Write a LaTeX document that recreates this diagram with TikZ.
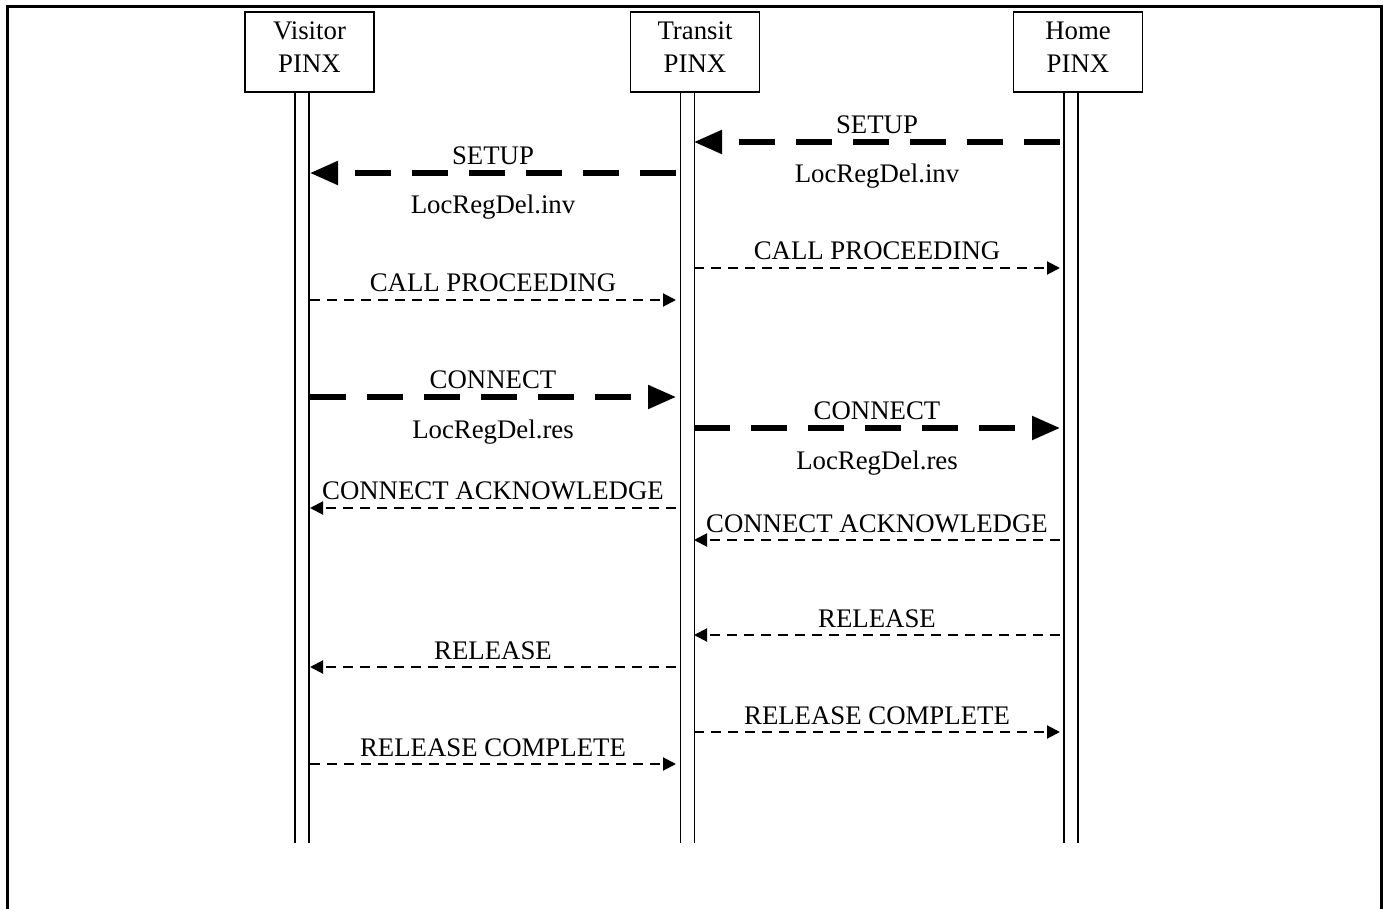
\documentclass[tikz,border=0pt]{standalone}
\usepackage{fontspec}
\setmainfont{Liberation Serif}
\usetikzlibrary{arrows.meta}

\begin{document}
\begin{tikzpicture}[
  x=0.5pt, y=-0.5pt,
  font=\fontsize{13.4}{16.5}\selectfont,
  pinx/.style={rectangle, draw, line width=0.6pt, minimum width=64.5pt, minimum height=40pt, inner sep=0pt, align=center, text depth=5.2pt},
  lifeline/.style={draw, line width=0.9pt, double, double distance=6.1pt},
  msg/.style={line width=1pt, dash pattern=on 5pt off 3.5pt, -{Triangle[length=6.5pt, width=6.5pt]}},
  bigmsg/.style={line width=2.6pt, dash pattern=on 18pt off 10.5pt, -{Triangle[length=14pt, width=11.5pt]}},
  lbl/.style={midway, anchor=base, inner sep=0pt, yshift=4pt},
  sublbl/.style={midway, anchor=base, inner sep=0pt, yshift=-20.5pt}
]
  \useasboundingbox (0,0) rectangle (1388,909);

  % Ramecek (bez spodni hrany)
  \draw[line width=1.5pt] (7,909) -- (7,7) -- (1381,7) -- (1381,909);

  % Ucastnici
  \node[pinx] (visitor) at (309.5,52) {Visitor\\PINX};
  \node[pinx] (transit) at (695,52) {Transit\\PINX};
  \node[pinx] (home) at (1078,52) {Home\\PINX};

  % Zivotni cary
  \foreach \n/\x in {visitor/302, transit/687.5, home/1071}
    \draw[lifeline] (\n.south -| \x,0) -- (\x,843);

  % Body zprav na zivotnich carach
  \foreach \y in {142,173,268,300,397,428,508,540,635,667,732,764} {
    \coordinate (v\y) at (310,\y);
    \coordinate (tl\y) at (676,\y);
    \coordinate (tr\y) at (694,\y);
    \coordinate (h\y) at (1060,\y);
  }

  % SETUP
  \draw[bigmsg] (h142) -- (tr142) node[lbl] {SETUP} node[sublbl] {LocRegDel.inv};
  \draw[bigmsg] (tl173) -- (v173) node[lbl] {SETUP} node[sublbl] {LocRegDel.inv};

  % CALL PROCEEDING
  \draw[msg] (tr268) -- (h268) node[lbl] {CALL PROCEEDING};
  \draw[msg] (v300) -- (tl300) node[lbl] {CALL PROCEEDING};

  % CONNECT
  \draw[bigmsg] (v397) -- (tl397) node[lbl] {CONNECT} node[sublbl] {LocRegDel.res};
  \draw[bigmsg] (tr428) -- (h428) node[lbl] {CONNECT} node[sublbl] {LocRegDel.res};

  % CONNECT ACKNOWLEDGE
  \draw[msg] (tl508) -- (v508) node[lbl] {CONNECT ACKNOWLEDGE};
  \draw[msg] (h540) -- (tr540) node[lbl] {CONNECT ACKNOWLEDGE};

  % RELEASE
  \draw[msg] (h635) -- (tr635) node[lbl] {RELEASE};
  \draw[msg] (tl667) -- (v667) node[lbl] {RELEASE};

  % RELEASE COMPLETE
  \draw[msg] (tr732) -- (h732) node[lbl] {RELEASE COMPLETE};
  \draw[msg] (v764) -- (tl764) node[lbl] {RELEASE COMPLETE};

\end{tikzpicture}
\end{document}
